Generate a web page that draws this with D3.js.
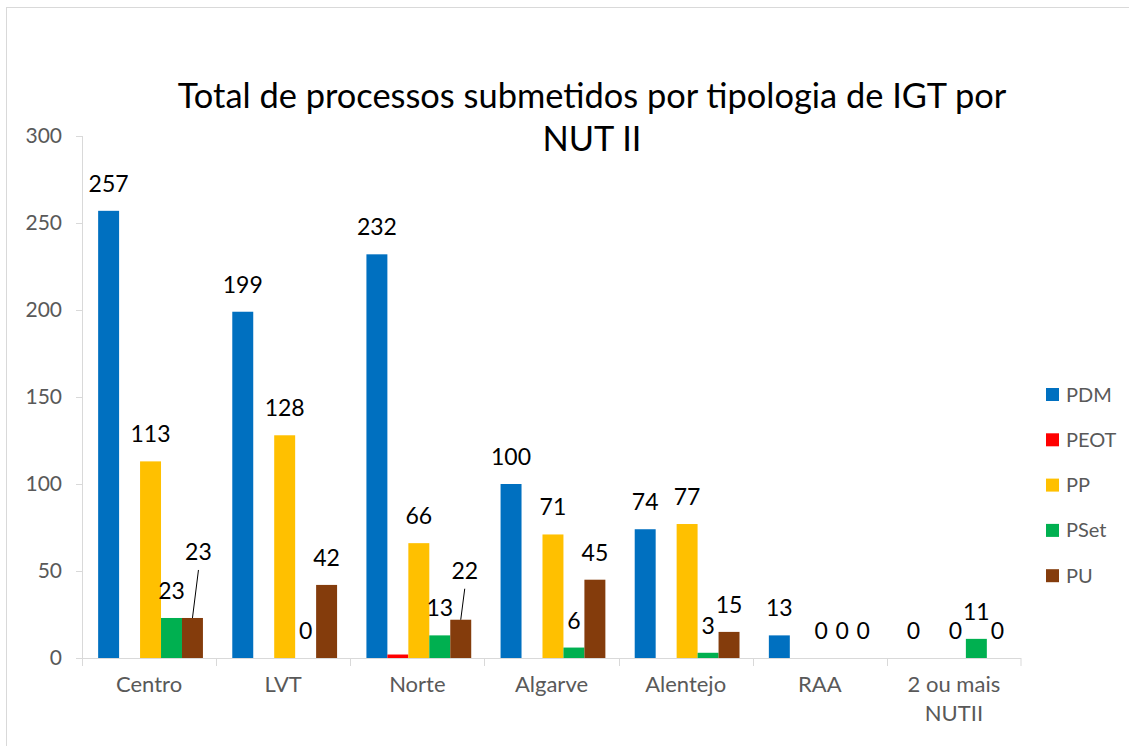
<!DOCTYPE html>
<html>
<head>
<meta charset="utf-8">
<script src="https://cdn.jsdelivr.net/npm/d3@7"></script>
<style>
  body { margin: 0; background: #fff; }
  text { font-family: Lato, "Open Sans", sans-serif; }
</style>
</head>
<body>
<div id="chart"></div>
<script>
// chart data
var categories = ["Centro", "LVT", "Norte", "Algarve", "Alentejo", "RAA", "2 ou mais NUTII"];
var seriesNames = ["PDM", "PEOT", "PP", "PSet", "PU"];
var pdm  = [257, 199, 232, 100, 74, 13, 0];
var peot = [0, 0, 2, 0, 0, 0, 0];
var pp   = [113, 128, 66, 71, 77, 0, 0];
var pset = [23, 0, 13, 6, 3, 0, 11];
var pu   = [23, 42, 22, 45, 15, 0, 0];
var yTicks = [0, 50, 100, 150, 200, 250, 300];
var colors = ["#0070C0", "#FF0000", "#FFC000", "#00B050", "#843C0C"];

var seriesValues = [pdm, peot, pp, pset, pu];

var w = 1129, h = 746;
var plotL = 82, plotR = 1021, plotT = 136, plotB = 658;
var gray = "#595959", lineGray = "#d9d9d9";

// labels that Excel moved aside, with a leader line
var nudges = { "Centro|PU": [6, -39], "Norte|PU": [4, -22] };

var svg = d3.select("#chart").append("svg")
    .attr("width", w)
    .attr("height", h);

svg.append("rect")
    .attr("x", 6.5).attr("y", 7.5)
    .attr("width", w + 10).attr("height", h + 10)
    .attr("fill", "#fff")
    .attr("stroke", lineGray);

var x = d3.scaleBand().domain(categories).range([plotL, plotR]);
var xs = d3.scaleBand().domain(seriesNames).range([0, x.bandwidth()])
    .paddingOuter(0.7).align(0.55);
var y = d3.scaleLinear().domain([0, 300]).range([plotB, plotT]);

// title, two lines
var title = svg.append("text")
    .attr("text-anchor", "middle")
    .attr("fill", "#000")
    .attr("font-size", 36);
title.append("tspan").attr("x", 592).attr("y", 108)
    .text("Total de processos submetidos por tipologia de IGT por");
title.append("tspan").attr("x", 592).attr("y", 151).text("NUT II");
var tl = title.select("tspan").node().getComputedTextLength();
title.attr("font-size", 36 * 829 / tl);

// y axis
var yAxis = svg.append("g")
    .attr("transform", "translate(" + plotL + ",0)")
    .call(d3.axisLeft(y).tickValues(yTicks).tickSize(6).tickPadding(14));
yAxis.selectAll("line").attr("stroke", lineGray);
yAxis.select(".domain").attr("stroke", lineGray).attr("d", "M0.5," + plotT + "V" + plotB);
yAxis.selectAll("text").attr("fill", gray).attr("font-size", 21)
    .style("font-family", "Lato, sans-serif");

// x axis
var xAxis = svg.append("g")
    .attr("transform", "translate(0," + plotB + ")");
xAxis.append("line")
    .attr("x1", plotL).attr("x2", plotR)
    .attr("y1", 0.5).attr("y2", 0.5)
    .attr("stroke", lineGray);
xAxis.selectAll(".tk")
    .data(categories.concat(["end"]))
    .enter()
    .append("line")
    .attr("x1", function(d) { return d == "end" ? plotR : Math.round(x(d)) + 0.5; })
    .attr("x2", function(d) { return d == "end" ? plotR : Math.round(x(d)) + 0.5; })
    .attr("y1", 0).attr("y2", 8)
    .attr("stroke", lineGray);

xAxis.selectAll(".cat")
    .data(categories)
    .enter()
    .append("text")
    .attr("class", "cat")
    .attr("text-anchor", "middle")
    .attr("fill", gray)
    .attr("font-size", 22)
    .attr("x", function(d) { return x(d) + x.bandwidth() / 2; })
    .attr("y", 34)
    .each(function(d) {
        var t = d3.select(this);
        t.text(d);
        if (this.getComputedTextLength() > x.bandwidth() - 4) {
            var words = d.split(" ");
            var last = words.pop();
            t.text(null);
            t.append("tspan").attr("x", x(d) + x.bandwidth() / 2).text(words.join(" "));
            t.append("tspan").attr("x", x(d) + x.bandwidth() / 2).attr("dy", 29).text(last);
        }
    });

// bars
var groups = svg.selectAll(".grp")
    .data(categories)
    .enter()
    .append("g")
    .attr("class", "grp")
    .attr("transform", function(d) { return "translate(" + x(d) + ",0)"; });

function cellsOf(d, ci) {
    return seriesNames.map(function(s, si) {
        return { cat: d, series: s, si: si, value: seriesValues[si][ci] };
    });
}

groups.selectAll(".bar")
    .data(cellsOf)
    .enter()
    .append("rect")
    .attr("class", "bar")
    .attr("x", function(d) { return xs(d.series); })
    .attr("width", xs.bandwidth())
    .attr("y", function(d) { return y(d.value); })
    .attr("height", function(d) { return plotB - y(d.value); })
    .attr("fill", function(d) { return colors[d.si]; });

// value labels (Excel shows none for PEOT)
var labelled = groups.selectAll(".val")
    .data(function(d, ci) {
        return cellsOf(d, ci).filter(function(c) { return c.series != "PEOT"; });
    })
    .enter()
    .append("g")
    .attr("class", "val");

labelled.each(function(d) {
    var g = d3.select(this);
    var cx = xs(d.series) + xs.bandwidth() / 2;
    var base = y(d.value) - 19;
    var n = nudges[d.cat + "|" + d.series];
    var lx = cx, ly = base;
    if (n) {
        lx = cx + n[0];
        ly = base + n[1];
        g.append("line")
            .attr("x1", lx).attr("y1", ly + 10)
            .attr("x2", cx).attr("y2", y(d.value))
            .attr("stroke", "#000")
            .attr("stroke-width", 1);
    }
    g.append("text")
        .attr("x", lx).attr("y", ly)
        .attr("text-anchor", "middle")
        .attr("font-size", 23)
        .attr("fill", "#000")
        .text(d.value);
});

// legend
var legend = svg.selectAll(".leg")
    .data(seriesNames)
    .enter()
    .append("g")
    .attr("class", "leg")
    .attr("transform", function(d, i) { return "translate(1046," + (388 + i * 45.3) + ")"; });
legend.append("rect")
    .attr("width", 13).attr("height", 13)
    .attr("fill", function(d, i) { return colors[i]; });
legend.append("text")
    .attr("x", 20).attr("y", 6.5).attr("dy", "0.35em")
    .attr("font-size", 20)
    .attr("fill", gray)
    .text(function(d) { return d; });
</script>
</body>
</html>
